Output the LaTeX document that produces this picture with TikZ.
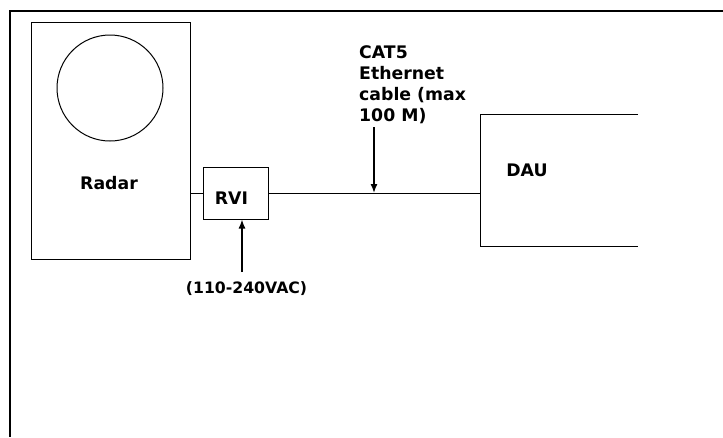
\documentclass[tikz,border=0pt]{standalone}
\usepackage{fontspec}
\setmainfont{DejaVu Sans}
\usetikzlibrary{arrows.meta}

\tikzset{
  unitbox/.style={draw=black,line width=1pt,inner sep=0pt},
  lbl/.style={font=\fontsize{17.3}{21}\selectfont\bfseries,inner sep=0pt},
  small lbl/.style={font=\fontsize{15.7}{18}\selectfont\bfseries,inner sep=0pt},
  feed/.style={line width=1.4pt,-{Latex[length=9pt,width=7pt]}}
}

\begin{document}
\begin{tikzpicture}[x=1pt,y=-1pt]
\useasboundingbox (0,0) rectangle (723,437);
% frame (only top and left edges show)
\draw[line width=2pt] (723,11) -- (10,11) -- (10,437);
% radar
\node[unitbox,minimum width=159pt,minimum height=237pt] (radar) at (110.5,140.5) {};
\draw[line width=1pt] (110,88) circle (53);
\node[lbl] (radartxt) at (109,183) {Radar};
% RVI
\node[unitbox,minimum width=65pt,minimum height=52pt] (rvi) at (235.5,193) {};
\node[lbl] (rvitxt) at (231.5,198) {RVI};
% DAU (open on the right)
\draw[line width=1pt] (638,114) -- (480,114) -- (480,246) -- (638,246);
\coordinate (dau) at (480,193);
\node[lbl] (dautxt) at (527,170) {DAU};
% cables
\draw[line width=1pt] (rvi.west -| radar.east) -- (rvi.west);
\draw[line width=1pt] (rvi.east) -- (dau);
% power feed
\coordinate (pwr) at (242,272);
\draw[feed] (pwr) -- (pwr |- rvi.south);
\node[small lbl] (pwrtxt) at (246.5,289) {(110-240VAC)};
% cable note
\coordinate (cab) at (374,127);
\draw[feed] (cab) -- (cab |- dau);
\node[lbl,anchor=base west,align=left] (cabtxt) at (359,121.3) {CAT5\\Ethernet\\cable (max\\100 M)};
\end{tikzpicture}
\end{document}
